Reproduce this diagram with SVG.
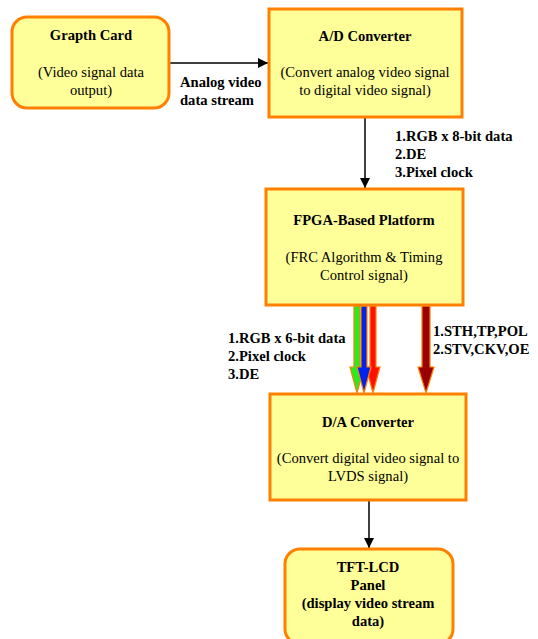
<svg xmlns="http://www.w3.org/2000/svg" width="538" height="639" viewBox="0 0 538 639">
<defs>
<style>
.box{fill:#ffff99;stroke:#ff8000;stroke-width:3}
.t{font-family:"Liberation Serif","Times New Roman",serif;font-size:14.6px;text-anchor:middle;fill:#000}
.b{font-weight:bold}
.l{font-family:"Liberation Serif","Times New Roman",serif;font-size:14.6px;font-weight:bold;fill:#000}
.c{stroke:#000;stroke-width:1.5;fill:none}
.fa{stroke:#ff8000;stroke-width:1.2;stroke-linejoin:miter}
</style>
<marker id="ah" markerWidth="10" markerHeight="10" refX="10" refY="5" orient="auto" markerUnits="userSpaceOnUse">
<path d="M0,0 L10,5 L0,10 Z" fill="#000"/>
</marker>
</defs>
<rect width="538" height="639" fill="#fff"/>
<g id="connectors">
<line class="c" x1="170" y1="63" x2="268" y2="63" marker-end="url(#ah)"/>
<line class="c" x1="365" y1="118" x2="365" y2="188" marker-end="url(#ah)"/>
<line class="c" x1="369" y1="501" x2="369" y2="548" marker-end="url(#ah)"/>
<path class="fa" fill="#22ee22" d="M354,306 L360,306 L360,367 L364,367 L357,393 L350,367 L354,367 Z"/>
<path class="fa" fill="#ff1100" d="M370,306 L376,306 L376,367 L380,367 L373,393 L366,367 L370,367 Z"/>
<path class="fa" fill="#0022ee" d="M361,306 L367,306 L367,367 L371,367 L364,393 L357,367 L361,367 Z"/>
<path class="fa" fill="#990000" d="M422,306 L430,306 L430,367 L434,367 L426,393 L418,367 L422,367 Z"/>
<text class="l" x="180" y="87">Analog video</text>
<text class="l" x="180" y="105">data stream</text>
<text class="l" x="395" y="141">1.RGB x 8-bit data</text>
<text class="l" x="395" y="159">2.DE</text>
<text class="l" x="395" y="177">3.Pixel clock</text>
<text class="l" x="228" y="343">1.RGB x 6-bit data</text>
<text class="l" x="228" y="361">2.Pixel clock</text>
<text class="l" x="228" y="379">3.DE</text>
<text class="l" x="433" y="336">1.STH,TP,POL</text>
<text class="l" x="433" y="354">2.STV,CKV,OE</text>
</g>
<g id="graph-card">
<rect class="box" x="12" y="17" width="157" height="91" rx="15"/>
<text class="t b" x="91" y="40">Grapth Card</text>
<text class="t" x="91" y="77">(Video signal data</text>
<text class="t" x="91" y="95">output)</text>
</g>
<g id="ad-converter">
<rect class="box" x="269" y="9" width="193" height="108"/>
<text class="t b" x="365" y="41">A/D Converter</text>
<text class="t" x="365" y="77">(Convert analog video signal</text>
<text class="t" x="365" y="95">to digital video signal)</text>
</g>
<g id="fpga">
<rect class="box" x="266" y="189" width="197" height="116"/>
<text class="t b" x="364" y="225">FPGA-Based Platform</text>
<text class="t" x="364" y="262">(FRC Algorithm &amp; Timing</text>
<text class="t" x="364" y="280">Control signal)</text>
</g>
<g id="da-converter">
<rect class="box" x="270" y="394" width="196" height="106"/>
<text class="t b" x="368" y="427">D/A Converter</text>
<text class="t" x="368" y="463">(Convert digital video signal to</text>
<text class="t" x="368" y="481">LVDS signal)</text>
</g>
<g id="tft-lcd">
<rect class="box" x="285" y="549" width="168" height="95" rx="15"/>
<text class="t b" x="368" y="572">TFT-LCD</text>
<text class="t b" x="368" y="590">Panel</text>
<text class="t b" x="368" y="608">(display video stream</text>
<text class="t b" x="368" y="626">data)</text>
</g>
</svg>
